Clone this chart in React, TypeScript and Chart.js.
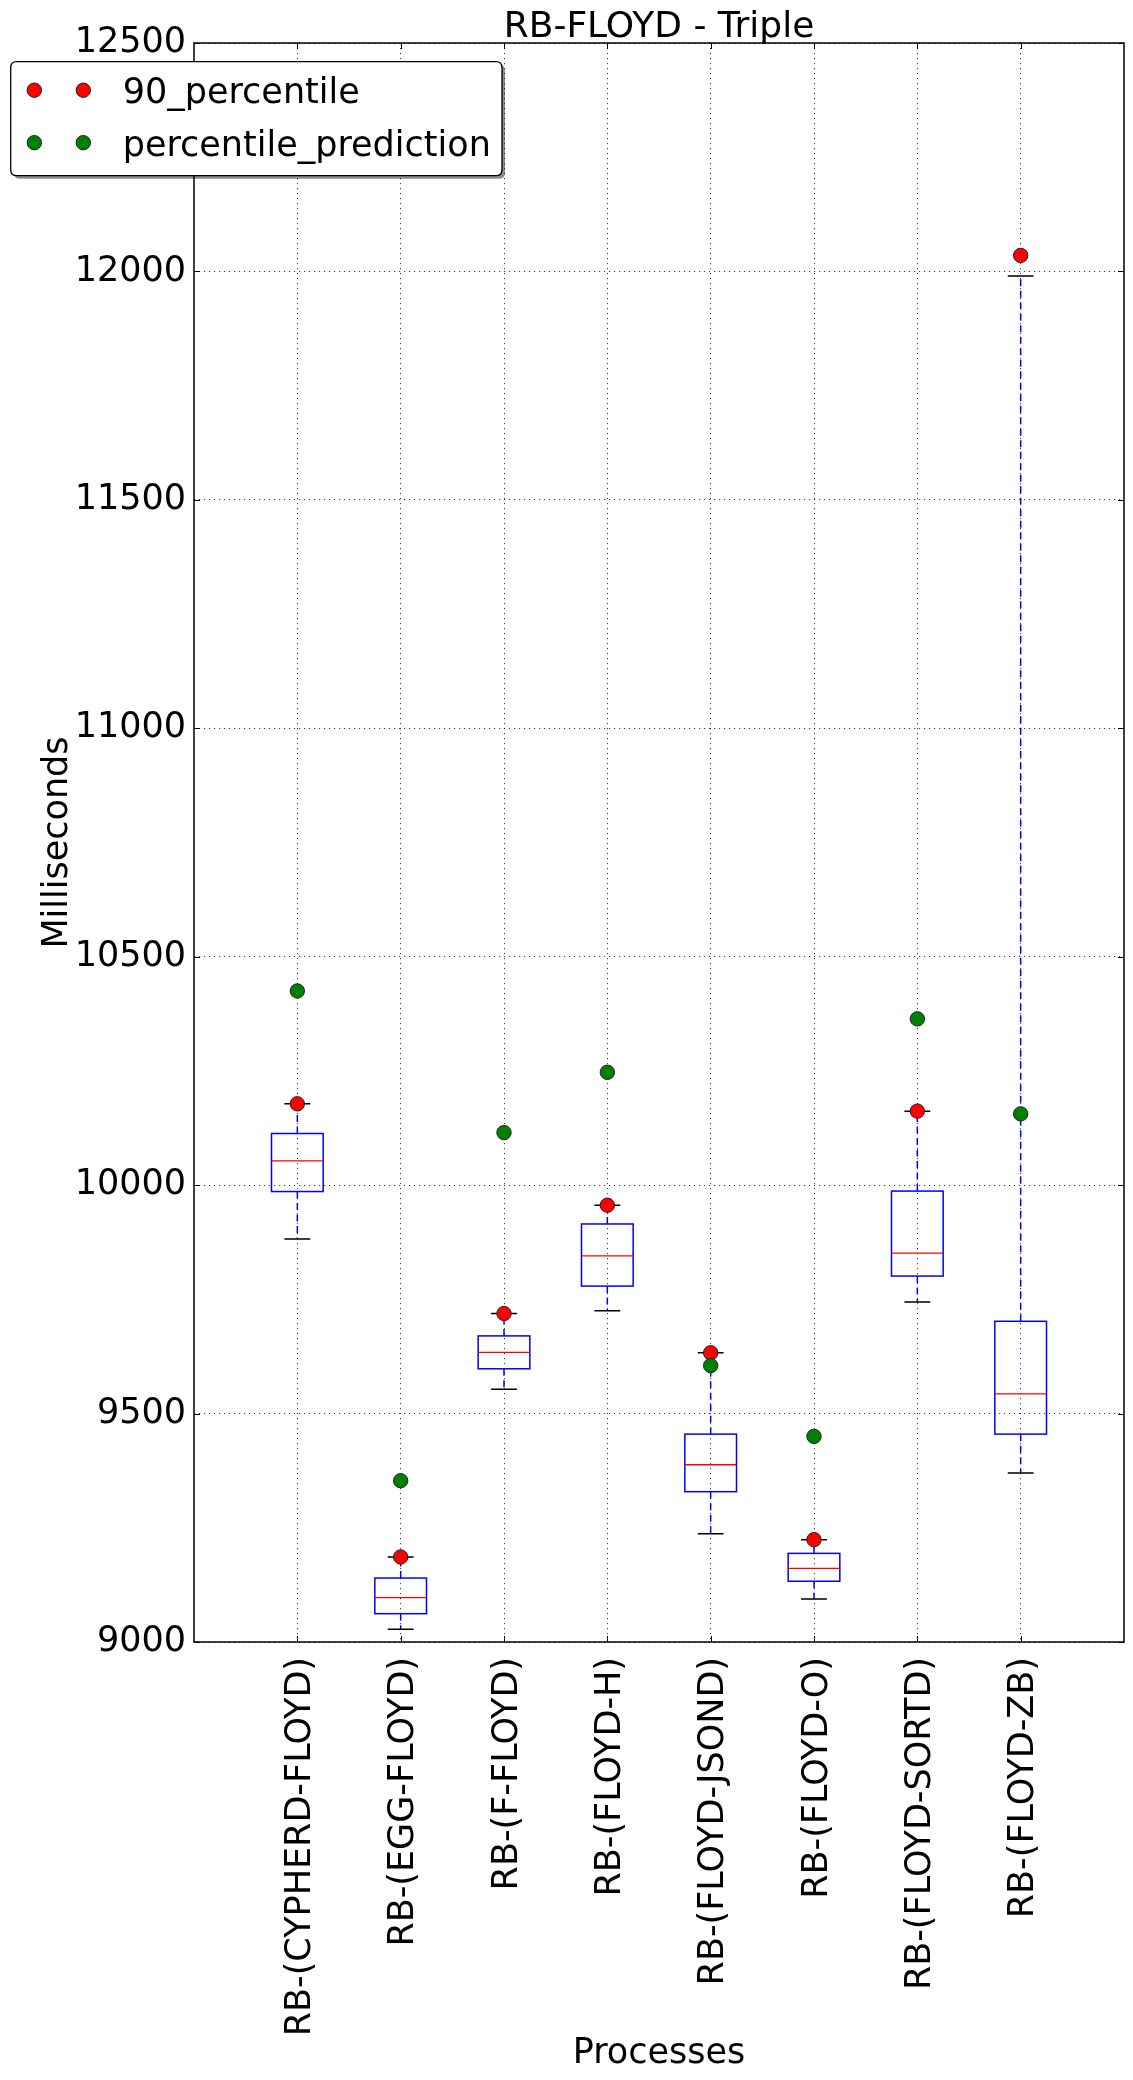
import React, { useEffect, useRef } from 'react';
import { Chart, registerables } from 'chart.js';

Chart.register(...registerables);

const FONT_FAMILY = '"DejaVu Sans", "Liberation Sans", sans-serif';

const chartTitle = 'RB-FLOYD - Triple';
const xAxisTitle = 'Processes';
const yAxisTitle = 'Milliseconds';

const categories = [
  'RB-(CYPHERD-FLOYD)',
  'RB-(EGG-FLOYD)',
  'RB-(F-FLOYD)',
  'RB-(FLOYD-H)',
  'RB-(FLOYD-JSOND)',
  'RB-(FLOYD-O)',
  'RB-(FLOYD-SORTD)',
  'RB-(FLOYD-ZB)',
];

const whiskerLow = [9882, 9028, 9553, 9725, 9237, 9094, 9744, 9370];
const quartile1 = [9986, 9062, 9598, 9779, 9329, 9133, 9801, 9455];
const medians = [10053, 9097, 9634, 9845, 9388, 9161, 9851, 9543];
const quartile3 = [10113, 9140, 9670, 9915, 9455, 9194, 9987, 9702];
const whiskerHigh = [10178, 9186, 9719, 9956, 9633, 9224, 10162, 11990];

const percentile90 = [10178, 9186, 9719, 9956, 9633, 9224, 10162, 12035];
const percentilePrediction = [10425, 9353, 10115, 10247, 9605, 9450, 10364, 10156];

const yTicks = [9000, 9500, 10000, 10500, 11000, 11500, 12000, 12500];

const legendItems = [
  { label: '90_percentile', color: '#ff0000' },
  { label: 'percentile_prediction', color: '#008000' },
];

export default function App() {
  const canvasRef = useRef<HTMLCanvasElement | null>(null);

  useEffect(() => {
    const canvas = canvasRef.current;
    if (!canvas) return;

    const BOX_W = 0.5;
    const CAP_W = 0.25;
    const FS = 35;

    const boxPlugin = {
      id: 'boxplotDraw',
      beforeDatasetsDraw(chart: any) {
        const { ctx } = chart;
        const xs = chart.scales.x;
        const ys = chart.scales.y;
        ctx.save();
        categories.forEach((_, i) => {
          const pos = i + 1;
          const cx = xs.getPixelForValue(pos);
          const hb = xs.getPixelForValue(pos + BOX_W / 2) - cx;
          const hc = xs.getPixelForValue(pos + CAP_W / 2) - cx;
          const yLo = ys.getPixelForValue(whiskerLow[i]);
          const yQ1 = ys.getPixelForValue(quartile1[i]);
          const yMed = ys.getPixelForValue(medians[i]);
          const yQ3 = ys.getPixelForValue(quartile3[i]);
          const yHi = ys.getPixelForValue(whiskerHigh[i]);

          ctx.strokeStyle = '#0000ff';
          ctx.lineWidth = 1.5;
          ctx.setLineDash([7, 4.5]);
          ctx.beginPath();
          ctx.moveTo(cx, yQ3);
          ctx.lineTo(cx, yHi);
          ctx.moveTo(cx, yQ1);
          ctx.lineTo(cx, yLo);
          ctx.stroke();
          ctx.setLineDash([]);

          ctx.strokeStyle = '#000000';
          ctx.lineWidth = 1.5;
          ctx.beginPath();
          ctx.moveTo(cx - hc, yHi);
          ctx.lineTo(cx + hc, yHi);
          ctx.moveTo(cx - hc, yLo);
          ctx.lineTo(cx + hc, yLo);
          ctx.stroke();

          ctx.strokeStyle = '#0000ff';
          ctx.lineWidth = 1.5;
          ctx.strokeRect(cx - hb, yQ3, hb * 2, yQ1 - yQ3);

          ctx.strokeStyle = '#ff0000';
          ctx.lineWidth = 1.3;
          ctx.beginPath();
          ctx.moveTo(cx - hb, yMed);
          ctx.lineTo(cx + hb, yMed);
          ctx.stroke();
        });
        ctx.restore();
      },
      afterDraw(chart: any) {
        const { ctx, chartArea } = chart;
        const xs = chart.scales.x;
        const ys = chart.scales.y;
        const { left, right, top, bottom } = chartArea;
        ctx.save();

        ctx.strokeStyle = '#000';
        ctx.lineWidth = 1;
        ctx.setLineDash([]);
        ctx.beginPath();
        yTicks.forEach((v) => {
          const yy = Math.round(ys.getPixelForValue(v)) + 0.5;
          ctx.moveTo(left, yy);
          ctx.lineTo(left + 6, yy);
          ctx.moveTo(right, yy);
          ctx.lineTo(right - 6, yy);
        });
        categories.forEach((_, i) => {
          const xx = Math.round(xs.getPixelForValue(i + 1)) + 0.5;
          ctx.moveTo(xx, bottom);
          ctx.lineTo(xx, bottom - 6);
          ctx.moveTo(xx, top);
          ctx.lineTo(xx, top + 6);
        });
        ctx.stroke();

        ctx.lineWidth = 1.5;
        ctx.strokeRect(left, top, right - left, bottom - top);

        ctx.fillStyle = '#000';

        ctx.font = `36px ${FONT_FAMILY}`;
        ctx.textAlign = 'center';
        ctx.textBaseline = 'alphabetic';
        ctx.fillText(chartTitle, (left + right) / 2, 37);

        ctx.font = `${FS}px ${FONT_FAMILY}`;
        ctx.fillText(xAxisTitle, (left + right) / 2, 2063);

        ctx.save();
        ctx.translate(67, (top + bottom) / 2);
        ctx.rotate(-Math.PI / 2);
        ctx.textAlign = 'center';
        ctx.fillText(yAxisTitle, 0, 0);
        ctx.restore();

        categories.forEach((label, i) => {
          const xx = xs.getPixelForValue(i + 1);
          ctx.save();
          ctx.translate(xx, bottom + 15);
          ctx.rotate(-Math.PI / 2);
          ctx.textAlign = 'right';
          ctx.textBaseline = 'alphabetic';
          ctx.fillText(label, 0, 12.8);
          ctx.restore();
        });

        const lx = 10.7, ly = 61.7, lw = 491.3, lh = 114;
        const r = 6;
        const roundRect = (x: number, y: number, w: number, h: number) => {
          ctx.beginPath();
          ctx.moveTo(x + r, y);
          ctx.lineTo(x + w - r, y);
          ctx.quadraticCurveTo(x + w, y, x + w, y + r);
          ctx.lineTo(x + w, y + h - r);
          ctx.quadraticCurveTo(x + w, y + h, x + w - r, y + h);
          ctx.lineTo(x + r, y + h);
          ctx.quadraticCurveTo(x, y + h, x, y + h - r);
          ctx.lineTo(x, y + r);
          ctx.quadraticCurveTo(x, y, x + r, y);
          ctx.closePath();
        };
        ctx.fillStyle = 'rgba(0,0,0,0.45)';
        roundRect(lx + 3, ly + 3, lw, lh);
        ctx.fill();
        ctx.fillStyle = '#ffffff';
        roundRect(lx, ly, lw, lh);
        ctx.fill();
        ctx.strokeStyle = '#000';
        ctx.lineWidth = 1.3;
        ctx.stroke();

        const rowY = [90.2, 142.7];
        legendItems.forEach((item, k) => {
          const cy = rowY[k];
          [34.3, 83.3].forEach((mx) => {
            ctx.beginPath();
            ctx.arc(mx, cy, 7.2, 0, Math.PI * 2);
            ctx.fillStyle = item.color;
            ctx.fill();
            ctx.strokeStyle = '#222';
            ctx.lineWidth = 1;
            ctx.stroke();
          });
          ctx.fillStyle = '#000';
          ctx.textAlign = 'left';
          ctx.textBaseline = 'alphabetic';
          ctx.font = `${FS}px ${FONT_FAMILY}`;
          ctx.fillText(item.label, 122.7, cy + 12.8);
        });

        ctx.restore();
      },
    };

    const chart = new Chart(canvas, {
      type: 'scatter',
      data: {
        datasets: [
          {
            label: legendItems[0].label,
            data: categories.map((_, i) => ({ x: i + 1, y: percentile90[i] })),
            backgroundColor: legendItems[0].color,
            borderColor: '#222',
            borderWidth: 1,
            pointRadius: 7.2,
            pointHoverRadius: 7.2,
            order: 1,
          },
          {
            label: legendItems[1].label,
            data: categories.map((_, i) => ({ x: i + 1, y: percentilePrediction[i] })),
            backgroundColor: legendItems[1].color,
            borderColor: '#222',
            borderWidth: 1,
            pointRadius: 7.2,
            pointHoverRadius: 7.2,
            order: 0,
          },
        ],
      },
      options: {
        animation: false,
        responsive: false,
        devicePixelRatio: 1,
        layout: { padding: { top: 43, right: 9, left: 0, bottom: 0 } },
        plugins: {
          legend: { display: false },
          tooltip: { enabled: false },
          title: { display: false },
        },
        scales: {
          x: {
            type: 'linear',
            min: 0,
            max: 9,
            afterBuildTicks: (scale: any) => {
              scale.ticks = categories.map((_, i) => ({ value: i + 1 }));
            },
            afterFit: (scale: any) => {
              scale.height = 438;
            },
            ticks: { display: false },
            grid: {
              display: true,
              drawTicks: false,
              color: 'rgba(0,0,0,0.75)',
              lineWidth: 1,
            },
            border: { display: false, dash: [1.2, 3.8] },
          },
          y: {
            type: 'linear',
            min: 9000,
            max: 12500,
            afterBuildTicks: (scale: any) => {
              scale.ticks = yTicks.map((v) => ({ value: v }));
            },
            afterFit: (scale: any) => {
              scale.width = 194;
            },
            ticks: {
              color: '#000',
              padding: 8,
              font: { family: FONT_FAMILY, size: 35 },
              callback: (v: any) => String(v),
            },
            grid: {
              display: true,
              drawTicks: false,
              color: 'rgba(0,0,0,0.75)',
              lineWidth: 1,
            },
            border: { display: false, dash: [1.2, 3.8] },
          },
        },
      },
      plugins: [boxPlugin],
    } as any);

    return () => {
      chart.destroy();
    };
  }, []);

  return (
    <div style={{ position: 'absolute', left: 0, top: 0, width: 1133, height: 2080, background: '#fff' }}>
      <canvas ref={canvasRef} width={1133} height={2080} style={{ display: 'block', width: 1133, height: 2080 }} />
    </div>
  );
}
